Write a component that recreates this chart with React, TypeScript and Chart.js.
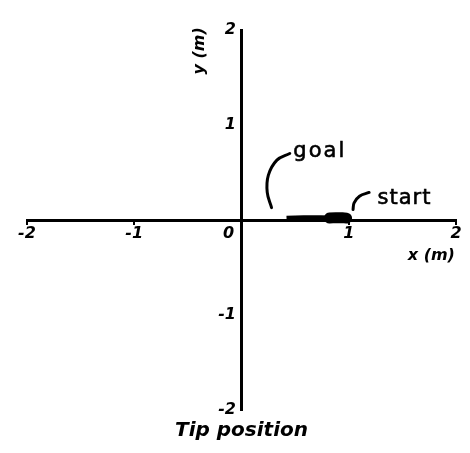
import React, { useEffect, useRef } from "react";
import { Chart, registerables } from "chart.js";

Chart.register(...registerables);

// axis extents and ticks
const xRange = [-2, 2];
const yRange = [-2, 2];
const tickValues = [-2, -1, 0, 1, 2];

// tip path (thin part then thick part), x in m, y in m
const pathThinX = [0.42, 0.5, 0.58, 0.66, 0.74, 0.82, 0.86];
const pathThinY = [0.012, 0.015, 0.018, 0.018, 0.018, 0.015, 0.015];
const pathThickX = [0.82, 0.88, 0.94, 0.98];
const pathThickY = [0.02, 0.025, 0.025, 0.02];

// leader curves for annotations
const goalLeaderX = [0.45, 0.33, 0.25, 0.24, 0.28];
const goalLeaderY = [0.7, 0.63, 0.47, 0.29, 0.13];
const startLeaderX = [1.19, 1.1, 1.05, 1.04];
const startLeaderY = [0.29, 0.25, 0.18, 0.11];

// annotation texts (x, y baseline)
const noteTexts = ["goal", "start"];
const noteX = [0.73, 1.52];
const noteY = [0.66, 0.17];

const axisTitles = ["x (m)", "y (m)"];
const originLabel = "0";
const titleText = "Tip position";

const pts = (xs: number[], ys: number[]) => xs.map((x, i) => ({ x, y: ys[i] }));

const textPlugin = {
  id: "textNotes",
  afterDatasetsDraw(chart: any) {
    const { ctx, scales } = chart;
    const sx = scales.x;
    const sy = scales.y;
    ctx.save();
    ctx.fillStyle = "#000";
    ctx.strokeStyle = "#000";
    // annotations
    ctx.font = "21px 'DejaVu Sans'";
    ctx.textAlign = "center";
    ctx.textBaseline = "alphabetic";
    ctx.lineWidth = 0.6;
    noteTexts.forEach((t, i) => {
      (ctx as any).letterSpacing = i === 0 ? "2px" : "1px";
      const px = sx.getPixelForValue(noteX[i]);
      const py = sy.getPixelForValue(noteY[i]);
      ctx.fillText(t, px, py);
      ctx.strokeText(t, px, py);
    });
    (ctx as any).letterSpacing = "0px";
    // axis titles
    ctx.font = "italic bold 16px 'DejaVu Sans'";
    ctx.textBaseline = "middle";
    ctx.fillText(axisTitles[0], sx.getPixelForValue(1.77), sy.getPixelForValue(-0.38));
    ctx.save();
    ctx.translate(sx.getPixelForValue(-0.39), sy.getPixelForValue(1.78));
    ctx.rotate(-Math.PI / 2);
    ctx.fillText(axisTitles[1], 0, 0);
    ctx.restore();
    // origin label
    ctx.font = "italic bold 16px 'DejaVu Sans'";
    ctx.fillText(originLabel, sx.getPixelForValue(-0.12), sy.getPixelForValue(-0.15));
    ctx.restore();
  },
};

export default function App() {
  const ref = useRef<HTMLCanvasElement | null>(null);

  useEffect(() => {
    if (!ref.current) return;
    const tickFont = { family: "'DejaVu Sans'", size: 16, weight: "bold" as const, style: "italic" as const };
    const chart = new Chart(ref.current, {
      type: "scatter",
      data: {
        datasets: [
          {
            data: pts(pathThinX, pathThinY),
            showLine: true,
            borderColor: "#000",
            borderWidth: 6,
            pointRadius: 0,
          },
          {
            data: pts(pathThickX, pathThickY),
            showLine: true,
            borderColor: "#000",
            borderWidth: 11,
            pointRadius: 0,
            borderCapStyle: "round",
          },
          {
            data: pts(goalLeaderX, goalLeaderY),
            showLine: true,
            borderColor: "#000",
            borderWidth: 3,
            pointRadius: 0,
            tension: 0.4,
            borderCapStyle: "round",
          },
          {
            data: pts(startLeaderX, startLeaderY),
            showLine: true,
            borderColor: "#000",
            borderWidth: 3,
            pointRadius: 0,
            tension: 0.4,
            borderCapStyle: "round",
          },
        ],
      },
      options: {
        animation: false,
        responsive: true,
        maintainAspectRatio: false,
        layout: { padding: { left: 27, right: 14, top: 30, bottom: 6 } },
        plugins: {
          legend: { display: false },
          tooltip: { enabled: false },
          title: {
            display: true,
            text: titleText,
            position: "bottom",
            color: "#000",
            font: { family: "'DejaVu Sans'", size: 20, weight: "bold", style: "italic" },
            padding: { top: 9, bottom: 4 },
          },
        },
        scales: {
          x: {
            type: "linear",
            min: xRange[0],
            max: xRange[1],
            position: { y: 0 } as any,
            afterBuildTicks: (s: any) => {
              s.ticks = tickValues.map((v) => ({ value: v }));
            },
            grid: { drawOnChartArea: false, drawTicks: true, tickLength: 3, color: "#000", lineWidth: 2 },
            border: { display: true, color: "#000", width: 3 },
            ticks: {
              color: "#000",
              font: tickFont,
              padding: 1,
              maxRotation: 0,
              autoSkip: false,
              callback: (v: any) => (v === 0 ? "" : String(v)),
            },
          },
          y: {
            type: "linear",
            min: yRange[0],
            max: yRange[1],
            position: { x: 0 } as any,
            afterBuildTicks: (s: any) => {
              s.ticks = tickValues.map((v) => ({ value: v }));
            },
            grid: { drawOnChartArea: false, drawTicks: false, color: "#000", lineWidth: 2 },
            border: { display: true, color: "#000", width: 3 },
            ticks: {
              color: "#000",
              font: tickFont,
              padding: 5,
              autoSkip: false,
              callback: (v: any) => (v === 0 ? "" : String(v) + " "),
            },
          },
        },
      },
      plugins: [textPlugin],
    });
    return () => chart.destroy();
  }, []);

  return (
    <div style={{ position: "fixed", left: 0, top: 0, width: 470, height: 453, background: "#fff" }}>
      <canvas ref={ref} />
    </div>
  );
}
